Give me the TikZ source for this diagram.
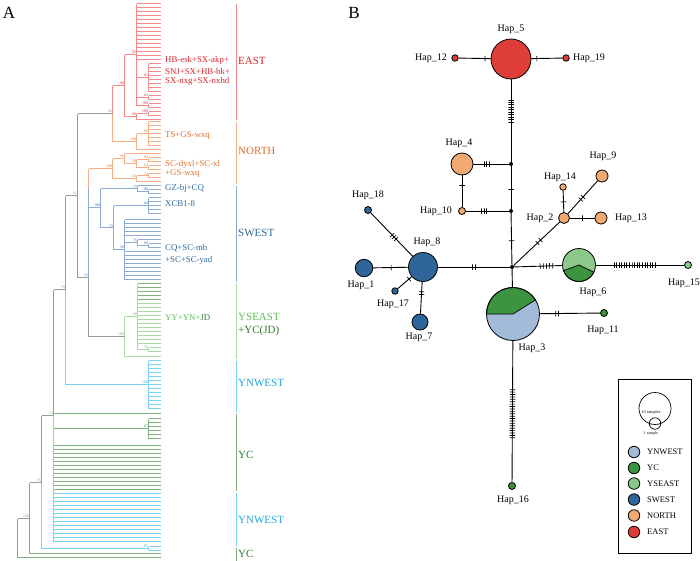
\documentclass[tikz,border=0pt]{standalone}
\usepackage{fontspec}
\setmainfont{Liberation Serif}
\definecolor{cE}{HTML}{F58A8A}
\definecolor{tE}{HTML}{D9262C}
\definecolor{cN}{HTML}{F5AE86}
\definecolor{tN}{HTML}{E0702A}
\definecolor{cS}{HTML}{8CACD6}
\definecolor{tS}{HTML}{2D6AA0}
\definecolor{cY}{HTML}{A6DC9E}
\definecolor{tY}{HTML}{5CBE5C}
\definecolor{cC}{HTML}{7DB27D}
\definecolor{tC}{HTML}{2E7D32}
\definecolor{cW}{HTML}{78D2F4}
\definecolor{tW}{HTML}{22A8E0}
\definecolor{cG}{HTML}{9A9A9A}
\definecolor{pW}{HTML}{A2BBD8}
\definecolor{pC}{HTML}{3C9340}
\definecolor{pY}{HTML}{8BC98A}
\definecolor{pS}{HTML}{2F6699}
\definecolor{pN}{HTML}{F3AA72}
\definecolor{pE}{HTML}{DF3E38}
\newcommand\Lv[3]{\draw[tl,color=#3] foreach \lvy in {#2}{(#1,\lvy) -- (160,\lvy)};}
\newcommand\Hz[4]{\draw[tl,color=#4] (#1,#3) -- (#2,#3);}
\newcommand\Vt[4]{\draw[tl,color=#4] (#1,#2) -- (#1,#3);}
\newcommand\Bs[4]{\node[bsl,text=#4] at (#1-0.4,#2-0.3) {#3};}
\newcommand\Tk[3]{\foreach \q in {#3}{\path (#1.center) -- (#2.center) node[tick,sloped,pos=\q]{};}}
\begin{document}
\begin{tikzpicture}[x=1pt,y=-1pt,
  tl/.style={line width=0.9pt},
  bsl/.style={font=\fontsize{3.8}{4}\selectfont, inner sep=0pt, anchor=south east},
  grp/.style={font=\fontsize{8.8}{10}\selectfont, anchor=west, inner sep=0pt},
  cld/.style={font=\fontsize{11}{13}\selectfont, anchor=west, inner sep=0pt},
  edge/.style={line width=0.9pt},
  hap/.style={circle, draw, line width=0.8pt, inner sep=0pt},
  jdot/.style={circle, fill=black, inner sep=0pt, minimum size=4pt},
  tick/.style={draw, line width=0.7pt, inner sep=0pt, minimum width=0pt, minimum height=5.5pt},
  hl/.style={font=\fontsize{10}{12}\selectfont, inner sep=0pt},
  lg/.style={font=\fontsize{8.5}{10}\selectfont, anchor=west, inner sep=0pt},
  bar/.style={line width=1pt}
]
\fill[white] (0,0) rectangle (700,560);
\useasboundingbox (0,0) rectangle (700,560);
\node[font=\fontsize{17}{20}\selectfont, inner sep=0pt] (lA) at (9,13) {A};
\node[font=\fontsize{17}{20}\selectfont, inner sep=0pt] (lB) at (354,13) {B};
\begin{scope}[xshift=0.5pt,yshift=-0.5pt]
% ---------------- TREE: EAST
\Lv{136}{3,7,...,59}{cE}
\Lv{148}{63,67,...,91}{cE} \Vt{148}{63}{91}{cE} \Hz{136}{148}{77}{cE}
\Lv{148}{95,99}{cE} \Vt{148}{95}{99}{cE} \Hz{136}{148}{97}{cE}
\Lv{148}{103,107}{cE} \Vt{148}{103}{107}{cE} \Hz{136}{148}{105}{cE}
\Vt{136}{3}{105}{cE} \Hz{124}{136}{54}{cE}
\Lv{148}{111,115}{cE} \Vt{148}{111}{115}{cE} \Hz{136}{148}{113}{cE}
\Lv{136}{119}{cE} \Vt{136}{113}{119}{cE} \Hz{124}{136}{116}{cE}
\Vt{124}{54}{116}{cE} \Hz{112}{124}{85}{cE}
\Vt{112}{85}{113}{cE} \Vt{112}{113}{141}{cN}
\Hz{77}{112}{113}{cG}
% NORTH
\Lv{148}{121,125,...,145}{cN} \Vt{148}{121}{145}{cN} \Hz{136}{148}{133}{cN}
\Lv{136}{149}{cN} \Vt{136}{133}{149}{cN} \Hz{112}{136}{141}{cN}
\Lv{124}{153}{cN}
\Lv{148}{157,161}{cN} \Vt{148}{157}{161}{cN} \Hz{136}{148}{159}{cN}
\Lv{148}{165,169}{cN} \Vt{148}{165}{169}{cN} \Hz{136}{148}{167}{cN}
\Vt{136}{159}{167}{cN} \Hz{124}{136}{163}{cN}
\Vt{124}{153}{163}{cN} \Hz{112}{124}{158}{cN}
\Lv{148}{173,177}{cN} \Vt{148}{173}{177}{cN} \Hz{136}{148}{175}{cN}
\Lv{136}{181}{cN} \Vt{136}{175}{181}{cN} \Hz{112}{136}{178}{cN}
\Vt{112}{158}{178}{cN} \Hz{88}{112}{168}{cN}
\Vt{88}{168}{188}{cN} \Vt{88}{188}{277}{cS} \Vt{88}{277}{336}{cG}
\Hz{77}{88}{277}{cG}
% SWEST
\Lv{137}{185}{cS} \Lv{148}{189,193}{cS} \Vt{148}{189}{193}{cS} \Hz{137}{148}{191}{cS}
\Vt{137}{185}{191}{cS} \Hz{100}{137}{188}{cS}
\Lv{148}{197,201,...,213}{cS} \Vt{148}{197}{213}{cS} \Hz{113}{148}{205}{cS}
\Lv{124}{219,223,...,235}{cS}
\Lv{137}{239}{cS} \Lv{148}{243,247}{cS} \Vt{148}{243}{247}{cS} \Hz{137}{148}{245}{cS}
\Vt{137}{239}{245}{cS} \Hz{124}{137}{242}{cS}
\Lv{124}{251,255,...,279}{cS}
\Vt{124}{219}{279}{cS} \Hz{113}{124}{249}{cS}
\Vt{113}{205}{249}{cS} \Hz{100}{113}{227}{cS}
\Vt{100}{188}{227}{cS} \Hz{88}{100}{207}{cS}
% YSEAST
\Lv{137}{283,287,...,299}{cC} \Lv{137}{303,307,...,343}{cY}
\Lv{148}{347,351}{cY} \Vt{148}{347}{351}{cY} \Hz{137}{148}{349}{cY}
\Vt{137}{283}{349}{cY} \Hz{124}{137}{316}{cY}
\Lv{124}{356}{cY} \Vt{124}{316}{356}{cY} \Hz{88}{124}{336}{cG}
% backbone
\Vt{77}{113}{277}{cG} \Hz{65}{77}{195}{cG}
\Lv{148}{360,364,...,408}{cW} \Vt{148}{360}{408}{cW} \Hz{65}{148}{384}{cW}
\Vt{65}{195}{289}{cG} \Vt{65}{289}{384}{cW} \Hz{53}{65}{289}{cG}
\Lv{53}{413}{cC}
\Lv{148}{418,422,...,438}{cC} \Vt{148}{418}{438}{cC} \Hz{53}{148}{428}{cC}
\Lv{53}{445,449,...,489}{cC}
\Lv{53}{493,497,...,541}{cW}
\Vt{53}{289}{415}{cG} \Vt{53}{415}{541}{cW}
\Hz{41}{53}{415}{cG}
\Lv{148}{546,550}{cW} \Vt{148}{546}{550}{cW} \Hz{41}{148}{548}{cW}
\Vt{41}{415}{482}{cG} \Vt{41}{482}{548}{cW} \Hz{29}{41}{482}{cG}
\Lv{29}{553}{cC} \Vt{29}{482}{553}{cG} \Hz{17}{29}{518}{cG}
\Lv{17}{557}{cC} \Vt{17}{518}{557}{cG}
% bootstrap values
\Bs{136}{54}{93}{tE} \Bs{148}{77}{61}{tE} \Bs{148}{97}{63}{tE} \Bs{148}{105}{100}{tE}
\Bs{148}{113}{100}{tE} \Bs{136}{116}{98}{tE} \Bs{124}{85}{98}{tE}
\Bs{112}{113}{86}{cG}
\Bs{148}{133}{96}{tN} \Bs{136}{141}{100}{tN} \Bs{148}{159}{94}{tN} \Bs{148}{167}{63}{tN}
\Bs{136}{163}{58}{tN} \Bs{124}{158}{90}{tN} \Bs{148}{175}{74}{tN} \Bs{136}{178}{63}{tN}
\Bs{112}{168}{100}{tN}
\Bs{137}{188}{77}{tS} \Bs{148}{191}{88}{tS} \Bs{148}{205}{84}{tS} \Bs{137}{242}{76}{tS}
\Bs{148}{245}{80}{tS} \Bs{124}{249}{50}{tS} \Bs{113}{227}{72}{tS} \Bs{100}{207}{100}{tS}
\Bs{137}{316}{88}{cG} \Bs{148}{349}{70}{tY} \Bs{124}{336}{100}{cG}
\Bs{88}{277}{99}{cG} \Bs{77}{195}{81}{cG} \Bs{148}{384}{100}{tW} \Bs{65}{289}{79}{cG}
\Bs{148}{428}{87}{tC} \Bs{53}{415}{53}{cG} \Bs{148}{548}{85}{tW} \Bs{41}{482}{85}{cG}
\Bs{29}{518}{100}{cG}
% clade bars
\draw[bar,cE] (236,3) -- (236,119);
\draw[bar,cN] (236,121) -- (236,183);
\draw[bar,cS] (236,185) -- (236,281);
\draw[bar,cY] (236,283) -- (236,358);
\draw[bar,cW] (236,360) -- (236,411);
\draw[bar,cC] (236,413) -- (236,490);
\draw[bar,cW] (236,492) -- (236,545);
\draw[bar,cC] (236,547) -- (236,560);
\end{scope}
% clade labels
\node[cld,text=tE] (cEAST) at (238,61) {EAST};
\node[cld,text=tN] (cNORTH) at (238,151) {NORTH};
\node[cld,text=tS] (cSWEST) at (238,233) {SWEST};
\node[cld,text=tY] (cYSE) at (238,317) {YSEAST};
\node[cld,text=tC] (cYCJD) at (238,331) {+YC(JD)};
\node[cld,text=tW] (cYNW1) at (238,383) {YNWEST};
\node[cld,text=tC] (cYC1) at (238,455) {YC};
\node[cld,text=tW] (cYNW2) at (238,520) {YNWEST};
\node[cld,text=tC] (cYC2) at (238,554) {YC};
% group labels
\node[grp,text=tE] (g1) at (165,60) {HB-esk+SX-akp+};
\node[grp,text=tE] (g2) at (165,71) {SNJ+SX+HB-bk+};
\node[grp,text=tE] (g3) at (165,81) {SX-nxg+SX-nxhd};
\node[grp,text=tN] (g4) at (165,136) {TS+GS-wxq};
\node[grp,text=tN] (g5) at (165,164) {SC-dyxl+SC-xl};
\node[grp,text=tN] (g6) at (165,174) {+GS-wxq};
\node[grp,text=tS] (g7) at (165,188) {GZ-bj+CQ};
\node[grp,text=tS] (g8) at (165,204) {XCB1-8};
\node[grp,text=tS] (g9) at (165,248) {CQ+SC-mb};
\node[grp,text=tS] (g10) at (165,260) {+SC+SC-yad};
\node[grp] (g11) at (165,318) {\textcolor{tY}{YY+YN+}\textcolor{tC}{JD}};
% ---------------- NETWORK
\node[hap,fill=pE,minimum size=40pt] (h5) at (511,59) {};
\node[hap,fill=pE,minimum size=6.5pt] (h12) at (455,58) {};
\node[hap,fill=pE,minimum size=6.5pt] (h19) at (566,58) {};
\node[jdot] (j1) at (511,164) {};
\node[jdot] (j2) at (511,211) {};
\node[jdot] (jc) at (512,267) {};
\node[hap,fill=pN,minimum size=22pt] (h4) at (462,164) {};
\node[hap,fill=pN,minimum size=7pt] (h10) at (462,211) {};
\node[hap,fill=pN,minimum size=11pt] (h2) at (564,218) {};
\node[hap,fill=pN,minimum size=6.5pt] (h14) at (563,187) {};
\node[hap,fill=pN,minimum size=12pt] (h9) at (602,176) {};
\node[hap,fill=pN,minimum size=12pt] (h13) at (601,218) {};
\node[hap,fill=pS,minimum size=29pt] (h8) at (423,267) {};
\node[hap,fill=pS,minimum size=17.5pt] (h1) at (364,268) {};
\node[hap,fill=pS,minimum size=7pt] (h18) at (368,210) {};
\node[hap,fill=pS,minimum size=6.5pt] (h17) at (395,291) {};
\node[hap,fill=pS,minimum size=16pt] (h7) at (420,322) {};
% pie Hap_6
\fill[pY] (579,265) circle[radius=16.5pt];
\filldraw[fill=pC,draw=black,line width=0.7pt] (579,265) -- +(200:16.5pt) arc[start angle=200,end angle=334,radius=16.5pt] -- cycle;
\node[hap,minimum size=33pt] (h6) at (579,265) {};
% pie Hap_3
\fill[pW] (513,314) circle[radius=26.5pt];
\filldraw[fill=pC,draw=black,line width=0.7pt] (513,314) -- +(32:26.5pt) arc[start angle=32,end angle=180,radius=26.5pt] -- cycle;
\node[hap,minimum size=53pt] (h3) at (513,314) {};
\node[hap,fill=pY,minimum size=7pt] (h15) at (688,265) {};
\node[hap,fill=pC,minimum size=7pt] (h11) at (604,313) {};
\node[hap,fill=pC,minimum size=7pt] (h16) at (512,486) {};
% edges
\draw[edge] (h12) -- (h5);
\draw[edge] (h5) -- (h19);
\draw[edge] (h5) -- (j1);
\draw[edge] (h4) -- (j1);
\draw[edge] (h4) -- (h10);
\draw[edge] (h10) -- (j2);
\draw[edge] (j1) -- (j2);
\draw[edge] (j2) -- (jc);
\draw[edge] (jc) -- (h2);
\draw[edge] (h2) -- (h14);
\draw[edge] (h2) -- (h9);
\draw[edge] (h2) -- (h13);
\draw[edge] (h8) -- (jc);
\draw[edge] (h1) -- (h8);
\draw[edge] (h18) -- (h8);
\draw[edge] (h17) -- (h8);
\draw[edge] (h8) -- (h7);
\draw[edge] (jc) -- (h6);
\draw[edge] (h6) -- (h15);
\draw[edge] (jc) -- (h3);
\draw[edge] (h3) -- (h11);
\draw[edge] (h3) -- (h16);
% mutation ticks
\Tk{h12}{h5}{0.536}
\Tk{h5}{h19}{0.47}
\Tk{h5}{j1}{0.39,0.4133,...,0.6}
\Tk{h4}{j1}{0.45,0.5,0.55}
\Tk{h4}{h10}{0.45}
\Tk{h10}{j2}{0.40,0.45,0.50}
\Tk{j1}{j2}{0.53}
\Tk{j2}{jc}{0.53}
\Tk{jc}{h2}{0.49,0.55}
\Tk{h2}{h14}{0.52}
\Tk{h2}{h9}{0.44,0.50}
\Tk{h2}{h13}{0.49}
\Tk{h8}{jc}{0.555,0.585}
\Tk{h1}{h8}{0.46}
\Tk{h18}{h8}{0.44,0.475,0.51}
\Tk{h17}{h8}{0.5}
\Tk{h8}{h7}{0.45,0.5}
\Tk{jc}{h6}{0.42,0.467,...,0.62}
\Tk{h6}{h15}{0.32,0.34375,...,0.705}
\Tk{h3}{h11}{0.47,0.50}
\Tk{h3}{h16}{0.44,0.454,...,0.725}
% haplotype labels
\node[hl] (l5) at (511,29) {Hap\_5};
\node[hl] (l12) at (431,58) {Hap\_12};
\node[hl] (l19) at (589,58) {Hap\_19};
\node[hl] (l4) at (459,143) {Hap\_4};
\node[hl] (l10) at (436,211) {Hap\_10};
\node[hl] (l14) at (560,177) {Hap\_14};
\node[hl] (l9) at (603,156) {Hap\_9};
\node[hl] (l2) at (540,218) {Hap\_2};
\node[hl] (l13) at (631,218) {Hap\_13};
\node[hl] (l18) at (368,195) {Hap\_18};
\node[hl] (l8) at (427,242) {Hap\_8};
\node[hl] (l1) at (361,285) {Hap\_1};
\node[hl] (l17) at (393,304) {Hap\_17};
\node[hl] (l7) at (419,337) {Hap\_7};
\node[hl] (l6) at (593,292) {Hap\_6};
\node[hl] (l15) at (684,283) {Hap\_15};
\node[hl] (l3) at (532,348) {Hap\_3};
\node[hl] (l11) at (603,330) {Hap\_11};
\node[hl] (l16) at (513,500) {Hap\_16};
% legend
\draw[line width=1pt] (618,379) rectangle (691,553);
\node[circle,draw,line width=0.7pt,minimum size=32pt,inner sep=0pt] (lgbig) at (655,408.5) {};
\node[circle,draw,line width=0.7pt,minimum size=11.5pt,inner sep=0pt] (lgsm) at (655,423.5) {};
\node[font=\fontsize{4.2}{5}\selectfont,inner sep=0pt] (lg10) at (651,412) {10 samples};
\node[font=\fontsize{4}{5}\selectfont,inner sep=0pt] (lg1) at (651,434) {1 sample};
\node[hap,fill=pW,minimum size=11.5pt] (k1) at (634,452) {};
\node[hap,fill=pC,minimum size=11.5pt] (k2) at (634,468) {};
\node[hap,fill=pY,minimum size=11.5pt] (k3) at (634,483.5) {};
\node[hap,fill=pS,minimum size=11.5pt] (k4) at (634,499.5) {};
\node[hap,fill=pN,minimum size=11.5pt] (k5) at (634,515.5) {};
\node[hap,fill=pE,minimum size=11.5pt] (k6) at (634,532) {};
\node[lg] (t1) at (647,452) {YNWEST};
\node[lg] (t2) at (647,468) {YC};
\node[lg] (t3) at (647,483.5) {YSEAST};
\node[lg] (t4) at (647,499.5) {SWEST};
\node[lg] (t5) at (647,515.5) {NORTH};
\node[lg] (t6) at (647,532) {EAST};
\end{tikzpicture}
\end{document}
